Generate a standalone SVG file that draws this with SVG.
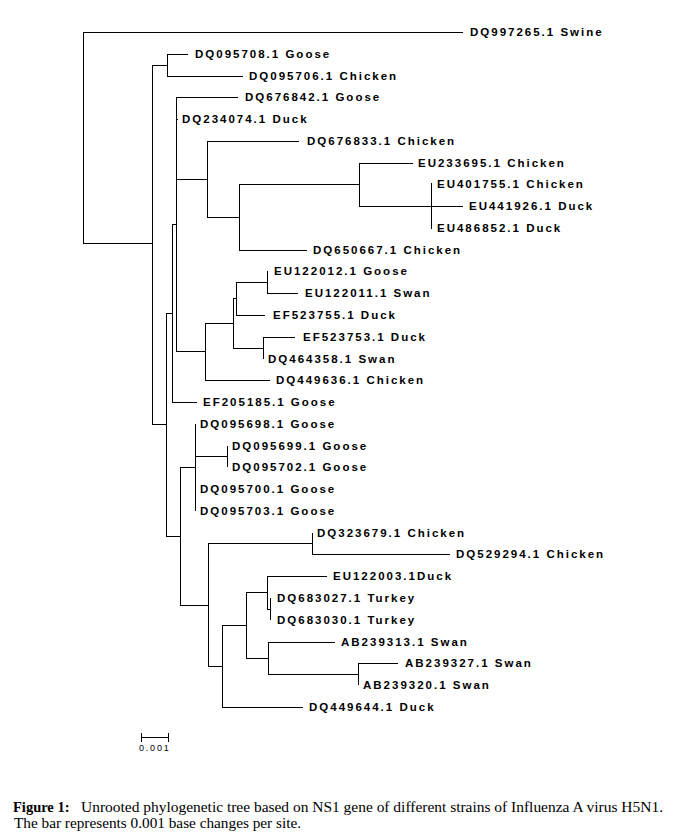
<svg xmlns="http://www.w3.org/2000/svg" width="675" height="839" viewBox="0 0 675 839">
<style>
.bg{fill:#fff}
.br{fill:none;stroke:#000;stroke-width:1}
.lb{font-family:"Liberation Sans",Arial,sans-serif;font-size:11.5px;font-weight:bold;letter-spacing:2px;fill:#000}
.sc{font-family:"Liberation Sans",Arial,sans-serif;font-size:9px;letter-spacing:1.8px;fill:#000}
.cap{font-family:"Liberation Serif","Times New Roman",serif;font-size:14px;fill:#000}
.capb{font-family:"Liberation Serif","Times New Roman",serif;font-size:14.5px;font-weight:bold;fill:#000}
</style>
<rect class="bg" x="0" y="0" width="675" height="839"/>
<g id="connectors" class="br" shape-rendering="crispEdges">
<!-- root -->
<path d="M83.5 32V243M83 32.5H463M83 243.5H152"/>
<!-- A -->
<path d="M152.5 65V425M152 65.5H167M152 424.5H166"/>
<!-- B -->
<path d="M167.5 54V76M167 54.5H188M167 76.5H243"/>
<!-- C -->
<path d="M166.5 313V537M166 313.5H172M166 536.5H180"/>
<!-- W -->
<path d="M172.5 224V402M172 224.5H176M172 402.5H197"/>
<!-- V -->
<path d="M176.5 97V352M176 97.5H238M176 119.5H178M176 179.5H207M176 351.5H205"/>
<!-- N -->
<path d="M207.5 141V217M207 141.5H299M207 217.5H239"/>
<!-- O -->
<path d="M239.5 184V250M239 184.5H359M239 250.5H307"/>
<!-- P -->
<path d="M359.5 163V206M359 163.5H413M359 206.5H463"/>
<!-- X -->
<path d="M431.5 183V229"/>
<!-- Q -->
<path d="M205.5 323V380M205 323.5H233M205 380.5H270"/>
<!-- R -->
<path d="M233.5 298V348M233 298.5H236M233 348.5H263"/>
<!-- S -->
<path d="M236.5 282V315M236 282.5H267M236 315.5H265"/>
<!-- T -->
<path d="M267.5 271V293M267 293.5H298"/>
<!-- U -->
<path d="M263.5 337V359M263 337.5H295"/>
<!-- D -->
<path d="M180.5 467V605M180 467.5H195M180 605.5H208"/>
<!-- E -->
<path d="M195.5 424V511M195 456.5H227"/>
<!-- pair -->
<path d="M227.5 446V467"/>
<!-- F -->
<path d="M208.5 543V666M208 543.5H312M208 666.5H222"/>
<!-- G -->
<path d="M312.5 533V554M312 554.5H450"/>
<!-- H -->
<path d="M222.5 625V707M222 625.5H246M222 707.5H303"/>
<!-- I -->
<path d="M246.5 592V658M246 592.5H267M246 658.5H268"/>
<!-- J -->
<path d="M267.5 576V609M267 576.5H327M267 609.5H270"/>
<!-- K -->
<path d="M270.5 598V620"/>
<!-- L -->
<path d="M268.5 642V674M268 642.5H335M268 674.5H358"/>
<!-- M -->
<path d="M358.5 663V685M358 663.5H398"/>
</g>
<g id="n-DQ997265" class="lb"><text x="470" y="36">DQ997265.1 Swine</text></g>
<g id="n-DQ095708" class="lb"><text x="195" y="58">DQ095708.1 Goose</text></g>
<g id="n-DQ095706" class="lb"><text x="249" y="80">DQ095706.1 Chicken</text></g>
<g id="n-DQ676842" class="lb"><text x="245" y="101">DQ676842.1 Goose</text></g>
<g id="n-DQ234074" class="lb"><text x="182" y="123">DQ234074.1 Duck</text></g>
<g id="n-DQ676833" class="lb"><text x="307" y="145">DQ676833.1 Chicken</text></g>
<g id="n-EU233695" class="lb"><text x="418" y="167">EU233695.1 Chicken</text></g>
<g id="n-EU401755" class="lb"><text x="437" y="188">EU401755.1 Chicken</text></g>
<g id="n-EU441926" class="lb"><text x="469" y="210">EU441926.1 Duck</text></g>
<g id="n-EU486852" class="lb"><text x="437" y="232">EU486852.1 Duck</text></g>
<g id="n-DQ650667" class="lb"><text x="313" y="254">DQ650667.1 Chicken</text></g>
<g id="n-EU122012" class="lb"><text x="274" y="275">EU122012.1 Goose</text></g>
<g id="n-EU122011" class="lb"><text x="305" y="297">EU122011.1 Swan</text></g>
<g id="n-EF523755" class="lb"><text x="273" y="319">EF523755.1 Duck</text></g>
<g id="n-EF523753" class="lb"><text x="303" y="341">EF523753.1 Duck</text></g>
<g id="n-DQ464358" class="lb"><text x="268" y="363">DQ464358.1 Swan</text></g>
<g id="n-DQ449636" class="lb"><text x="276" y="384">DQ449636.1 Chicken</text></g>
<g id="n-EF205185" class="lb"><text x="203" y="406">EF205185.1 Goose</text></g>
<g id="n-DQ095698" class="lb"><text x="200" y="428">DQ095698.1 Goose</text></g>
<g id="n-DQ095699" class="lb"><text x="232" y="450">DQ095699.1 Goose</text></g>
<g id="n-DQ095702" class="lb"><text x="232" y="471">DQ095702.1 Goose</text></g>
<g id="n-DQ095700" class="lb"><text x="200" y="493">DQ095700.1 Goose</text></g>
<g id="n-DQ095703" class="lb"><text x="200" y="515">DQ095703.1 Goose</text></g>
<g id="n-DQ323679" class="lb"><text x="317" y="537">DQ323679.1 Chicken</text></g>
<g id="n-DQ529294" class="lb"><text x="456" y="558">DQ529294.1 Chicken</text></g>
<g id="n-EU122003" class="lb"><text x="333" y="580">EU122003.1Duck</text></g>
<g id="n-DQ683027" class="lb"><text x="277" y="602">DQ683027.1 Turkey</text></g>
<g id="n-DQ683030" class="lb"><text x="277" y="624">DQ683030.1 Turkey</text></g>
<g id="n-AB239313" class="lb"><text x="341" y="646">AB239313.1 Swan</text></g>
<g id="n-AB239327" class="lb"><text x="405" y="667">AB239327.1 Swan</text></g>
<g id="n-AB239320" class="lb"><text x="363" y="689">AB239320.1 Swan</text></g>
<g id="n-DQ449644" class="lb"><text x="309" y="711">DQ449644.1 Duck</text></g>
<g id="scale-bar">
<path class="br" shape-rendering="crispEdges" d="M141 737.5H169M141.5 733V742M168.5 733V742"/>
<text class="sc" x="139" y="751">0.001</text>
</g>
<g id="caption">
<text class="capb" x="13" y="812">Figure 1:</text>
<text class="cap" x="81" y="812" textLength="582" lengthAdjust="spacingAndGlyphs">Unrooted phylogenetic tree based on NS1 gene of different strains of Influenza A virus H5N1.</text>
<text class="cap" x="14" y="828" textLength="287" lengthAdjust="spacingAndGlyphs">The bar represents 0.001 base changes per site.</text>
</g>
</svg>
